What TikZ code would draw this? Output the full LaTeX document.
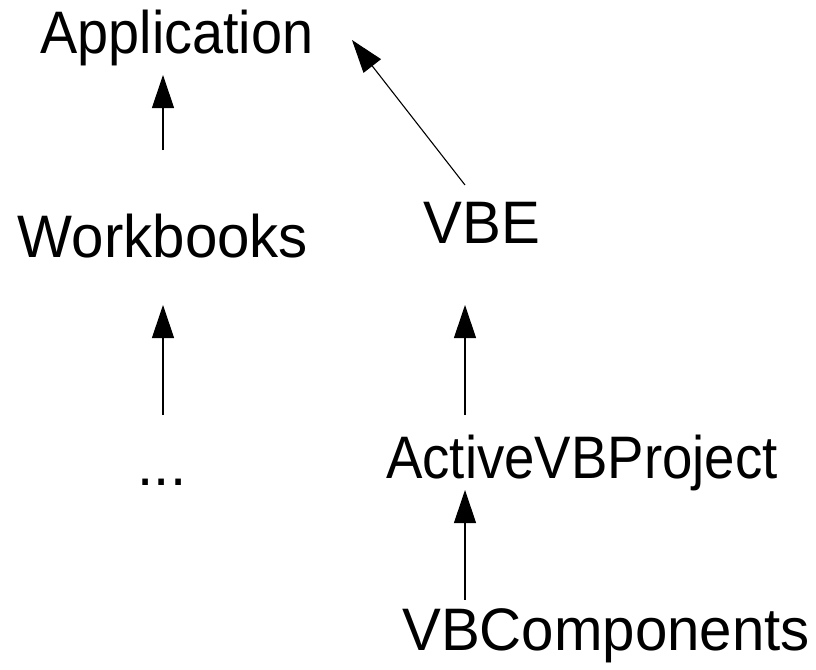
\documentclass[tikz,border=0pt]{standalone}
\usepackage{fontspec}
\setmainfont{Liberation Sans}
\usetikzlibrary{arrows.meta}
\newcommand{\sqz}[2]{\scalebox{#1}[1]{#2}}
\begin{document}
\begin{tikzpicture}[x=1pt,y=-1pt,
  lbl/.style={anchor=base,inner sep=0pt,font=\fontsize{60}{64}\selectfont},
  arr/.style={line width=1.1pt,-{Triangle[length=33pt,width=22pt]}}]
\useasboundingbox (0,0) rectangle (816,669);
\node[lbl] (app) at (177,53) {\sqz{0.93}{Application}};
\node[lbl] (wb) at (163,257) {\sqz{0.97}{Workbooks}};
\node[lbl] (vbe) at (482,243) {\sqz{0.97}{VBE}};
\node[lbl] (dots) at (162,485) {\sqz{0.97}{...}};
\node[lbl] (avp) at (582,478) {\sqz{0.91}{ActiveVBProject}};
\node[lbl] (vbc) at (606,650) {\sqz{0.97}{VBComponents}};
\coordinate (a1s) at (163,150); \coordinate (a1e) at (163,75);
\coordinate (a2s) at (465,185); \coordinate (a2e) at (352,40);
\coordinate (a3s) at (163,415); \coordinate (a3e) at (163,305);
\coordinate (a4s) at (465,415); \coordinate (a4e) at (465,305);
\coordinate (a5s) at (465,600); \coordinate (a5e) at (465,490);
\draw[arr] (a1s) -- (a1e);
\draw[arr] (a2s) -- (a2e);
\draw[arr] (a3s) -- (a3e);
\draw[arr] (a4s) -- (a4e);
\draw[arr] (a5s) -- (a5e);
\end{tikzpicture}
\end{document}
